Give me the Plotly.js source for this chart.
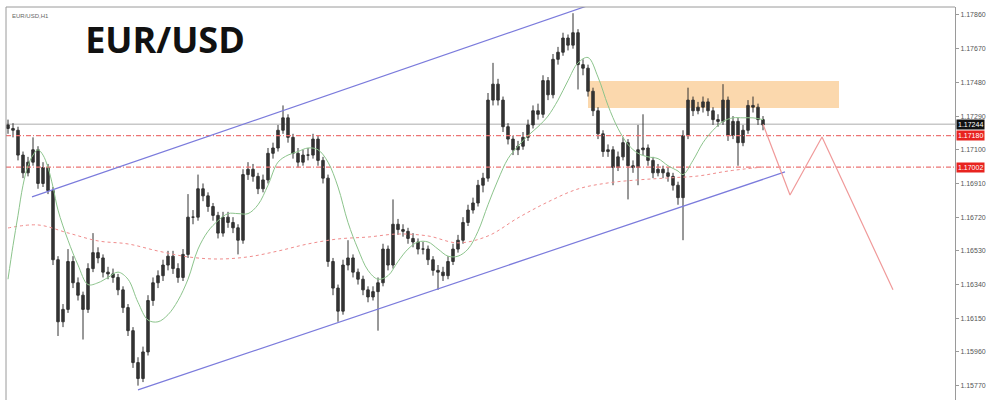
<!DOCTYPE html>
<html>
<head>
<meta charset="utf-8">
<script src="https://cdn.plot.ly/plotly-3.0.1.min.js"></script>
<style>html,body{margin:0;padding:0;background:#fff}#chart{width:1000px;height:400px}</style>
</head>
<body>
<div id="chart"></div>
<script>
// EUR/USD H1 candles
const openP = [1.1724,1.1722,1.1721,1.1707,1.1697,1.1703,1.1710,1.1691,1.1700,1.1687,
1.1648,1.1613,1.1620,1.1647,1.1635,1.1628,1.1620,1.1643,1.1652,1.1649,
1.1641,1.1640,1.1638,1.1631,1.1621,1.1608,1.1590,1.1581,1.1596,1.1625,
1.1635,1.1639,1.1645,1.1650,1.1643,1.1638,1.1651,1.1672,1.1672,1.1688,
1.1684,1.1678,1.1673,1.1663,1.1672,1.1669,1.1666,1.1659,1.1696,1.1699,
1.1695,1.1688,1.1693,1.1708,1.1711,1.1721,1.1728,1.1717,1.1708,1.1703,
1.1707,1.1707,1.1716,1.1704,1.1694,1.1647,1.1632,1.1619,1.1645,1.1649,
1.1641,1.1637,1.1631,1.1627,1.1630,1.1635,1.1654,1.1645,1.1668,1.1665,
1.1664,1.1660,1.1658,1.1654,1.1654,1.1648,1.1642,1.1641,1.1639,1.1647,
1.1654,1.1659,1.1669,1.1676,1.1680,1.1690,1.1694,1.1738,1.1747,1.1738,
1.1723,1.1716,1.1710,1.1712,1.1717,1.1724,1.1732,1.1730,1.1749,1.1741,
1.1761,1.1765,1.1773,1.1769,1.1776,1.1758,1.1756,1.1743,1.1732,1.1719,
1.1709,1.1710,1.1700,1.1706,1.1714,1.1701,1.1700,1.1710,1.1711,1.1704,
1.1697,1.1699,1.1697,1.1695,1.1690,1.1683,1.1718,1.1738,1.1732,1.1734,
1.1737,1.1732,1.1727,1.1726,1.1738,1.1718,1.1726,1.1714,1.1721,1.1735,
1.1734,1.1727];
const highP = [1.1727,1.1725,1.1723,1.1709,1.1706,1.1717,1.1712,1.1703,1.1702,1.1689,
1.1650,1.1623,1.1654,1.1650,1.1638,1.1630,1.1646,1.1663,1.1655,1.1651,
1.1644,1.1643,1.1640,1.1633,1.1623,1.1610,1.1593,1.1599,1.1628,1.1638,
1.1642,1.1648,1.1653,1.1653,1.1646,1.1654,1.1685,1.1676,1.1696,1.1691,
1.1686,1.1680,1.1675,1.1675,1.1675,1.1672,1.1668,1.1699,1.1703,1.1702,
1.1697,1.1696,1.1711,1.1714,1.1724,1.1735,1.1730,1.1719,1.1711,1.1710,
1.1711,1.1719,1.1718,1.1706,1.1696,1.1649,1.1634,1.1648,1.1659,1.1651,
1.1643,1.1639,1.1633,1.1633,1.1638,1.1657,1.1656,1.1682,1.1671,1.1668,
1.1666,1.1663,1.1660,1.1658,1.1656,1.1650,1.1645,1.1644,1.1650,1.1657,
1.1662,1.1672,1.1679,1.1683,1.1693,1.1697,1.1742,1.1759,1.1750,1.1740,
1.1725,1.1718,1.1715,1.1720,1.1727,1.1735,1.1736,1.1752,1.1751,1.1764,
1.1768,1.1776,1.1775,1.1787,1.1778,1.1761,1.1758,1.1745,1.1734,1.1721,
1.1713,1.1712,1.1709,1.1717,1.1716,1.1704,1.1724,1.1730,1.1713,1.1706,
1.1702,1.1701,1.1700,1.1697,1.1692,1.1721,1.1745,1.1740,1.1737,1.1740,
1.1739,1.1734,1.1730,1.1747,1.1740,1.1729,1.1728,1.1724,1.1738,1.1740,
1.1736,1.1729];
const lowP = [1.1719,1.1717,1.1704,1.1694,1.1695,1.1701,1.1688,1.1689,1.1685,1.1645,
1.1605,1.1610,1.1618,1.1632,1.1625,1.1603,1.1618,1.1641,1.1646,1.1638,
1.1637,1.1635,1.1628,1.1618,1.1605,1.1587,1.1577,1.1579,1.1594,1.1622,
1.1632,1.1636,1.1642,1.1640,1.1635,1.1636,1.1649,1.1668,1.1670,1.1681,
1.1675,1.1670,1.1660,1.1661,1.1666,1.1663,1.1651,1.1657,1.1693,1.1692,
1.1685,1.1686,1.1691,1.1705,1.1709,1.1719,1.1714,1.1705,1.1700,1.1701,
1.1704,1.1705,1.1701,1.1691,1.1644,1.1628,1.1613,1.1617,1.1642,1.1638,
1.1634,1.1628,1.1624,1.1625,1.1608,1.1633,1.1642,1.1643,1.1662,1.1661,
1.1657,1.1655,1.1651,1.1651,1.1645,1.1639,1.1631,1.1636,1.1637,1.1645,
1.1652,1.1657,1.1667,1.1674,1.1678,1.1686,1.1692,1.1735,1.1735,1.1720,
1.1713,1.1707,1.1707,1.1710,1.1715,1.1722,1.1727,1.1728,1.1738,1.1739,
1.1758,1.1763,1.1766,1.1767,1.1744,1.1752,1.1740,1.1729,1.1716,1.1706,
1.1706,1.1690,1.1698,1.1704,1.1682,1.1697,1.1690,1.1707,1.1701,1.1694,
1.1695,1.1694,1.1692,1.1687,1.1679,1.1659,1.1716,1.1729,1.1730,1.1731,
1.1729,1.1724,1.1723,1.1724,1.1715,1.1716,1.1701,1.1712,1.1719,1.1731,
1.1724,1.1721];
const closeP = [1.1722,1.1721,1.1707,1.1697,1.1703,1.1710,1.1691,1.1700,1.1687,1.1648,
1.1613,1.1620,1.1647,1.1635,1.1628,1.1620,1.1643,1.1652,1.1649,1.1641,
1.1640,1.1638,1.1631,1.1621,1.1608,1.1590,1.1581,1.1596,1.1625,1.1635,
1.1639,1.1645,1.1650,1.1643,1.1638,1.1651,1.1672,1.1672,1.1688,1.1684,
1.1678,1.1673,1.1663,1.1672,1.1669,1.1666,1.1659,1.1696,1.1699,1.1695,
1.1688,1.1693,1.1708,1.1711,1.1721,1.1728,1.1717,1.1708,1.1703,1.1707,
1.1707,1.1716,1.1704,1.1694,1.1647,1.1632,1.1619,1.1645,1.1649,1.1641,
1.1637,1.1631,1.1627,1.1630,1.1635,1.1654,1.1645,1.1668,1.1665,1.1664,
1.1660,1.1658,1.1654,1.1654,1.1648,1.1642,1.1641,1.1639,1.1647,1.1654,
1.1659,1.1669,1.1676,1.1680,1.1690,1.1694,1.1738,1.1747,1.1738,1.1723,
1.1716,1.1710,1.1712,1.1717,1.1724,1.1732,1.1730,1.1749,1.1741,1.1761,
1.1765,1.1773,1.1769,1.1776,1.1758,1.1756,1.1743,1.1732,1.1719,1.1709,
1.1710,1.1700,1.1706,1.1714,1.1701,1.1700,1.1710,1.1711,1.1704,1.1697,
1.1699,1.1697,1.1695,1.1690,1.1683,1.1718,1.1738,1.1732,1.1734,1.1737,
1.1732,1.1727,1.1726,1.1738,1.1718,1.1726,1.1714,1.1721,1.1735,1.1734,
1.1727,1.1724];

// fast moving average (green)
const maFastX = [0,1,2,3,4,5,6,7,8,9,10,12,14,16,18,20,22,24,26,28,30,32,34,36,38,40,42,44,46,48,50,52,54,56,58,60,62,64,66,68,70,72,74,76,78,80,82,84,86,88,90,92,94,96,98,100,102,104,106,108,110,112,114,116,118,120,122,124,126,128,130,132,134,135,137,139,141,143,145,147,149,151];
const maFastY = [1.1637,1.1656,1.1673,1.1690,1.1701,1.1707,1.1710,1.1707,1.1700,1.1689,1.1676,
1.1659,1.1645,1.1634,1.1635,1.1638,1.1641,1.1637,1.1624,1.1614,1.1613,1.1617,1.1625,1.1637,1.1654,1.1664,1.1670,1.1674,1.1674,1.1674,1.1679,1.1690,1.1703,1.1707,1.1709,1.1711,1.1710,1.1703,1.1689,1.1669,1.1654,1.1642,1.1637,1.1639,1.1647,1.1654,1.1658,1.1658,1.1654,1.1650,1.1650,1.1654,1.1664,1.1679,1.1693,1.1705,1.1712,1.1718,1.1723,1.1729,1.1738,1.1749,1.1759,1.1762,1.1751,1.1735,1.1722,1.1713,1.1708,1.1706,1.1705,1.1701,1.1698,
1.1696,1.1704,1.1714,1.1721,1.1726,1.1728,1.1728,1.1728,1.1727];

// slow moving average (red dotted)
const maSlowX = [0,6,12,18,24,30,36,42,48,54,60,66,72,78,84,90,96,102,108,114,120,126,132,138,144,151];
const maSlowY = [1.16659,1.16676,1.16631,1.16586,1.16569,1.16529,1.16496,1.16484,1.16496,1.16529,1.16569,1.16597,1.16608,1.16625,1.16614,1.16575,1.16614,1.16716,1.16806,1.16879,1.16913,1.16930,1.16941,1.16952,1.16980,1.17003];

// drawn objects
const upperChannelX = [4.8, 115.8];
const upperChannelY = [1.16834, 1.17911];
const lowerChannelX = [26, 155.4];
const lowerChannelY = [1.15746, 1.16975];
const projectionX = [151, 156.4, 162.8, 177];
const projectionY = [1.17244, 1.16845, 1.17172, 1.16310];
const zoneX = [116, 166.2];
const zoneY = [1.17336, 1.17488];
const lastPrice = 1.17244;
const levelLines = [1.17180, 1.17002];

// axis ticks
const yTicks = [1.17860,1.17670,1.17480,1.17290,1.17100,1.16910,1.16720,1.16530,1.16340,1.16150,1.15960,1.15770];
const yTickText = ['1.17860','1.17670','1.17480','1.17290','1.17100','1.16910','1.16720','1.16530','1.16340','1.16150','1.15960','1.15770'];

const idx = closeP.map((_, i) => i);

const traces = [
  {type:'scatter', mode:'lines', x:[-0.4, 189.4], y:[levelLines[0], levelLines[0]], line:{color:'#ec7474', width:1.1, dash:'5px,2px,1px,2px'}, hoverinfo:'skip'},
  {type:'scatter', mode:'lines', x:[-0.4, 189.4], y:[levelLines[1], levelLines[1]], line:{color:'#ec7474', width:1.1, dash:'5px,2px,1px,2px'}, hoverinfo:'skip'},
  {type:'scatter', mode:'lines', x:maSlowX, y:maSlowY, line:{color:'#f08c8c', width:1, dash:'dot', shape:'spline'}, hoverinfo:'skip'},
  {type:'scatter', mode:'lines', x:maFastX, y:maFastY, line:{color:'#8cc48c', width:1, shape:'spline'}, hoverinfo:'skip'},
  {type:'candlestick', x:idx, open:openP, high:highP, low:lowP, close:closeP,
    increasing:{line:{color:'#333333', width:1}, fillcolor:'#333333'},
    decreasing:{line:{color:'#333333', width:1}, fillcolor:'#333333'},
    whiskerwidth:0, hoverinfo:'skip'},
  {type:'scatter', mode:'lines', x:upperChannelX, y:upperChannelY, line:{color:'#7b7bdc', width:1.2}, hoverinfo:'skip'},
  {type:'scatter', mode:'lines', x:lowerChannelX, y:lowerChannelY, line:{color:'#7b7bdc', width:1.2}, hoverinfo:'skip'},
  {type:'scatter', mode:'lines', x:projectionX, y:projectionY, line:{color:'#f09a9a', width:1.2}, hoverinfo:'skip'},
  {type:'scatter', mode:'markers', x:[151.4], y:[1.17915], marker:{symbol:'triangle-down', size:6, color:'#3a4a6a'}, cliponaxis:false, hoverinfo:'skip'}
];

const shapes = [
  {type:'rect', xref:'x', yref:'y', x0:zoneX[0], x1:zoneX[1], y0:zoneY[0], y1:zoneY[1], fillcolor:'#fbd8ad', line:{width:0}, layer:'below'},
  {type:'line', xref:'paper', yref:'y', x0:0, x1:1, y0:lastPrice, y1:lastPrice, line:{color:'#c8c8c8', width:1.5}, layer:'below'},
  {type:'line', xref:'paper', yref:'paper', x0:0, x1:0, y0:0, y1:1, line:{color:'#9a9a9a', width:1}},
  {type:'line', xref:'paper', yref:'paper', x0:0, x1:1, y0:1, y1:1, line:{color:'#9a9a9a', width:1}}
];

const annotations = [
  {xref:'paper', yref:'paper', x:0.004, y:0.99, xanchor:'left', yanchor:'top', text:'EUR/USD,H1', showarrow:false, font:{family:'Liberation Sans, Arial', size:6, color:'#666'}},
  {xref:'paper', yref:'y', x:1, xshift:1, y:lastPrice, xanchor:'left', yanchor:'middle', text:lastPrice.toFixed(5), showarrow:false, bgcolor:'#111111', borderpad:1, font:{family:'Liberation Sans, Arial', size:7, color:'#ffffff'}}
];
levelLines.forEach(v => annotations.push({xref:'paper', yref:'y', x:1, xshift:1, y:v, xanchor:'left', yanchor:'middle', text:v.toFixed(5), showarrow:false, bgcolor:'#e8231f', borderpad:1, font:{family:'Liberation Sans, Arial', size:7, color:'#ffffff'}}));

const layout = {
  width:1000, height:400,
  margin:{l:6, r:45, t:7, b:0, pad:0},
  paper_bgcolor:'#ffffff', plot_bgcolor:'#ffffff',
  showlegend:false,
  title:{text:'<b>EUR/USD</b>', x:0.165, y:0.9, xref:'container', yref:'container', xanchor:'center', yanchor:'middle',
    font:{family:'Open Sans, Lato, sans-serif', size:36, color:'#111111'}},
  xaxis:{range:[-0.4, 189.4], showgrid:false, zeroline:false, showticklabels:false, ticks:'', showline:false, rangeslider:{visible:false}, fixedrange:true},
  yaxis:{range:[1.15689, 1.17905], side:'right', showgrid:false, zeroline:false, showline:true, linecolor:'#9a9a9a', linewidth:1,
    tickmode:'array', tickvals:yTicks, ticktext:yTickText, ticks:'outside', ticklen:3, tickcolor:'#9a9a9a',
    tickfont:{family:'Liberation Sans, Arial', size:7, color:'#555555'}, fixedrange:true},
  shapes:shapes,
  annotations:annotations
};

Plotly.newPlot('chart', traces, layout, {staticPlot:true, displayModeBar:false});
</script>
</body>
</html>
